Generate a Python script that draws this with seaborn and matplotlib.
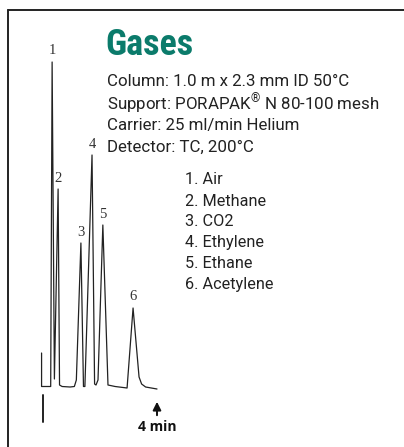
import numpy as np
import pandas as pd
import matplotlib
matplotlib.use('Agg')
import matplotlib.pyplot as plt
from matplotlib.lines import Line2D
import seaborn as sns

# chromatogram trace (time in min, detector signal)
time_min = [-0.05, -0.05, 0.27, 0.32, 0.40, 0.53, 0.58, 0.67, 0.95, 1.10, 1.17, 1.33,
            1.42, 1.47, 1.72, 1.81, 1.86, 1.93, 2.10, 2.28, 2.53, 2.95, 3.16, 3.37,
            3.46, 3.60, 4.00]
signal = [34, 0.5, 0.5, 325, 8, 198, 2, 0.5, 0, 0.5, 7, 144,
          0.5, 0.5, 232, 3, 2, 7, 162, 2, 0.5, -1, 79, 10,
          3, 0, -2]

peak_ids = ['1', '2', '3', '4', '5', '6']
peak_time = [0.32, 0.53, 1.33, 1.72, 2.10, 3.16]
peak_height = [325, 198, 144, 232, 162, 79]
compounds = ['Air', 'Methane', 'CO2', 'Ethylene', 'Ethane', 'Acetylene']

title = 'Gases'
conditions = ['Column: 1.0 m x 2.3 mm ID 50°C',
              'Support: PORAPAK$^{®}$ N 80-100 mesh',
              'Carrier: 25 ml/min Helium',
              'Detector: TC, 200°C']
end_time = 4

df = pd.DataFrame({'t': time_min, 'signal': signal})

sns.set_style('white')
plt.rcParams['font.family'] = ['Roboto', 'DejaVu Sans']
plt.rcParams['mathtext.fontset'] = 'custom'
plt.rcParams['mathtext.rm'] = 'Roboto'

W, H = 404, 447
fig = plt.figure(figsize=(W / 100, H / 100), dpi=100)
ax = fig.add_axes([0, 0, 1, 1])

# 1 min = 28.5 px, injection at x=43, baseline at y=387
px_per_min = 28.5
ax.set_xlim(-43 / px_per_min, (W - 43) / px_per_min)
ax.set_ylim(-(H - 387), 387)
ax.axis('off')

sns.lineplot(data=df, x='t', y='signal', sort=False, color='#222222',
             linewidth=0.9, ax=ax, estimator=None)

for pid, t, h in zip(peak_ids, peak_time, peak_height):
    ax.text(t, h + 11, pid, ha='center', va='center', fontsize=10.5,
            family='Liberation Serif', color='#333333')

# injection mark and end arrow
ax.plot([0, 0], [-8, -35], color='#222222', linewidth=1.4)
ax.annotate('', xy=(end_time, -12), xytext=(end_time, -31),
            arrowprops=dict(arrowstyle='-|>', color='#111111', lw=1.4,
                            mutation_scale=12))
ax.text(end_time, -40, f'{end_time} min', ha='center', va='center',
        fontsize=10, fontweight='bold', family='Open Sans', color='#111111')

# text block
def fx(x):
    return x / W

def fy(y):
    return 1 - y / H

fig.text(fx(105), fy(45), title, fontsize=26, fontweight='bold',
         family=['Roboto Condensed', 'DejaVu Sans'],
         color='#0b7b6b', ha='left', va='center')
for i, line in enumerate(conditions):
    fig.text(fx(107), fy(82 + i * 21.7), line, fontsize=12.2, color='#222222',
             ha='left', va='center')
for i, (pid, name) in enumerate(zip(peak_ids, compounds)):
    fig.text(fx(185), fy(180 + i * 21), f'{pid}. {name}', fontsize=11.7,
             color='#222222', ha='left', va='center')

# frame lines on top and left
fig.add_artist(Line2D([fx(8), 1], [fy(10), fy(10)], color='#222222', linewidth=1.4))
fig.add_artist(Line2D([fx(8), fx(8)], [fy(10), 0], color='#222222', linewidth=1.4))

fig.savefig('out.png', dpi=100)
